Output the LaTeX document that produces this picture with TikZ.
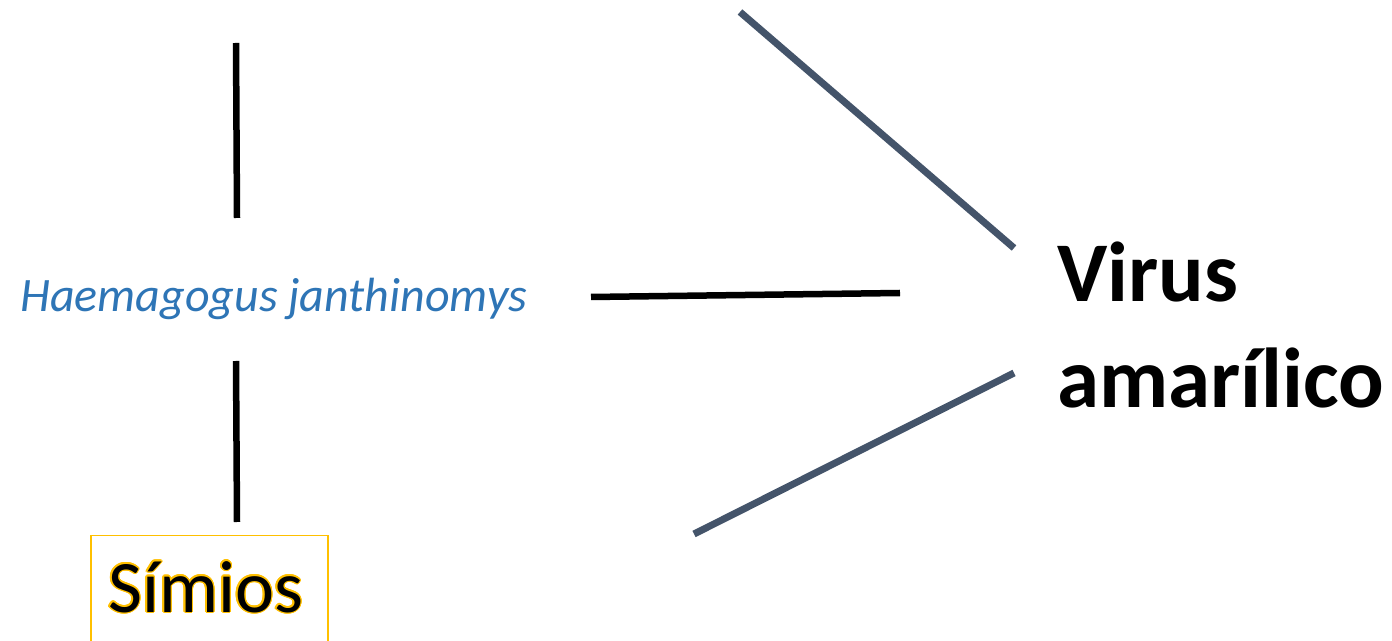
\documentclass[tikz,border=0pt]{standalone}
\usepackage{fontspec}
\setmainfont{Carlito}
\usepackage{contour}
\contourlength{1.4pt}
\definecolor{slate}{HTML}{44546A}
\definecolor{hblue}{HTML}{2E75B6}
\definecolor{gold}{HTML}{FFC000}
\tikzset{
  blk/.style={draw=black,line width=6.5pt},
  sl/.style={draw=slate,line width=7pt},
  lbl/.style={inner sep=0pt,anchor=base west}
}
\begin{document}
\begin{tikzpicture}[x=1pt,y=1pt]
\clip (0,0) rectangle (1392,640);
\fill[white] (0,0) rectangle (1392,640);
% nodes
\node[lbl,text=hblue,font=\fontsize{48}{58}\selectfont\itshape] (hj) at (20,328) {Haemagogus janthinomys};
\node[draw=gold,line width=1.5pt,minimum width=237pt,minimum height=140pt,anchor=north west,inner sep=0pt] (box) at (90,105) {};
\node[lbl,font=\fontsize{74}{88}\selectfont] (sim) at (108,28) {\contour{gold}{Símios}};
\node[lbl,align=left,font=\fontsize{85}{106}\selectfont\bfseries] (vir) at (1057,232) {Virus\\amarílico};
% line ends
\coordinate (v1a) at (236,597);
\coordinate (v1b) at (237,422);
\coordinate (v2a) at (236,279);
\coordinate (v2b) at (237,118);
\coordinate (h1a) at (591,343);
\coordinate (h1b) at (900,347);
\coordinate (d1a) at (740,628);
\coordinate (d1b) at (1014,392);
\coordinate (d2a) at (694,106);
\coordinate (d2b) at (1014,267);
\draw[blk] (v1a) -- (v1b);
\draw[blk] (v2a) -- (v2b);
\draw[blk] (h1a) -- (h1b);
\draw[sl] (d1a) -- (d1b);
\draw[sl] (d2a) -- (d2b);
\end{tikzpicture}
\end{document}
